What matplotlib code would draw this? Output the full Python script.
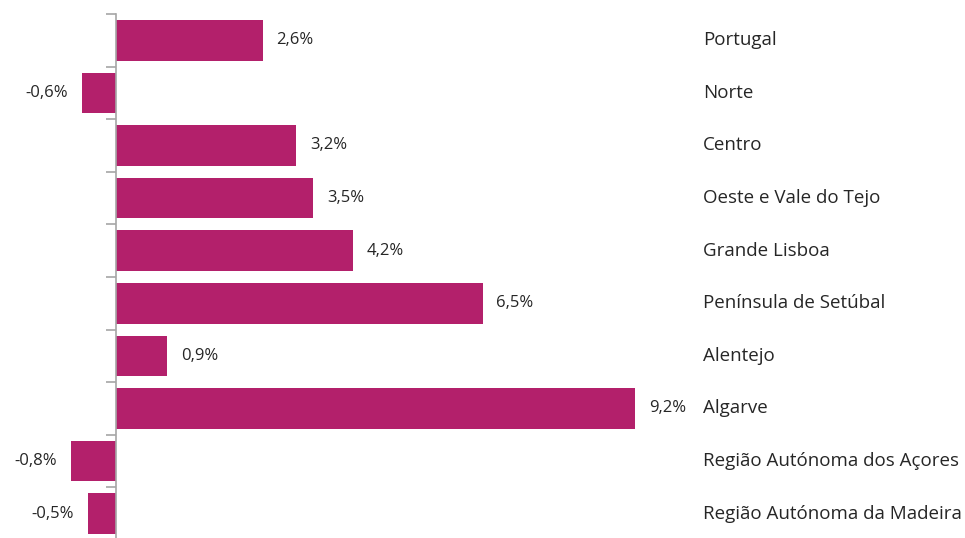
import matplotlib.pyplot as plt
import matplotlib.transforms as mtransforms

regions = ['Portugal', 'Norte', 'Centro', 'Oeste e Vale do Tejo', 'Grande Lisboa',
           'Península de Setúbal', 'Alentejo', 'Algarve',
           'Região Autónoma dos Açores', 'Região Autónoma da Madeira']
growth = [2.6, -0.6, 3.2, 3.5, 4.2, 6.5, 0.9, 9.2, -0.8, -0.5]

bar_color = '#B3206B'
text_color = '#262626'

plt.rcParams['font.family'] = ['Open Sans', 'DejaVu Sans']

W, H = 965, 538
fig = plt.figure(figsize=(W / 100, H / 100), dpi=100)
# zero line at x=116px, ~56.4 px per percentage point
x0, x1 = -1.0, 10.0
scale = 56.4
left_px = 116 - scale * (0 - x0)
width_px = scale * (x1 - x0)
top_px, height_px = 14, 526
ax = fig.add_axes([left_px / W, (H - top_px - height_px) / H, width_px / W, height_px / H])

pos = list(range(len(regions)))
ax.barh(pos, growth, height=0.77, color=bar_color, zorder=2)
ax.set_xlim(x0, x1)
ax.set_ylim(len(regions) - 0.5, -0.5)

for s in ['top', 'right', 'bottom']:
    ax.spines[s].set_visible(False)
ax.spines['left'].set_position(('data', 0))
ax.spines['left'].set_color('#A6A6A6')
ax.spines['left'].set_linewidth(1.2)
ax.spines['left'].set_zorder(3)
ax.set_xticks([])
ax.set_yticks([p - 0.5 for p in pos])
ax.set_yticklabels([])
ax.tick_params(axis='y', direction='out', length=7, width=1.2, color='#A6A6A6')

for p, v in zip(pos, growth):
    lab = f'{v:.1f}%'.replace('.', ',')
    if v >= 0:
        ax.annotate(lab, (v, p), xytext=(10, 0), textcoords='offset points',
                    ha='left', va='center', fontsize=12, color=text_color)
    else:
        ax.annotate(lab, (v, p), xytext=(-10, 0), textcoords='offset points',
                    ha='right', va='center', fontsize=12, color=text_color)

trans = mtransforms.blended_transform_factory(fig.transFigure, ax.transData)
for p, name in zip(pos, regions):
    ax.text(703 / W, p, name, transform=trans, ha='left', va='center',
            fontsize=13.5, color=text_color)

fig.savefig('out.png', dpi=100)
